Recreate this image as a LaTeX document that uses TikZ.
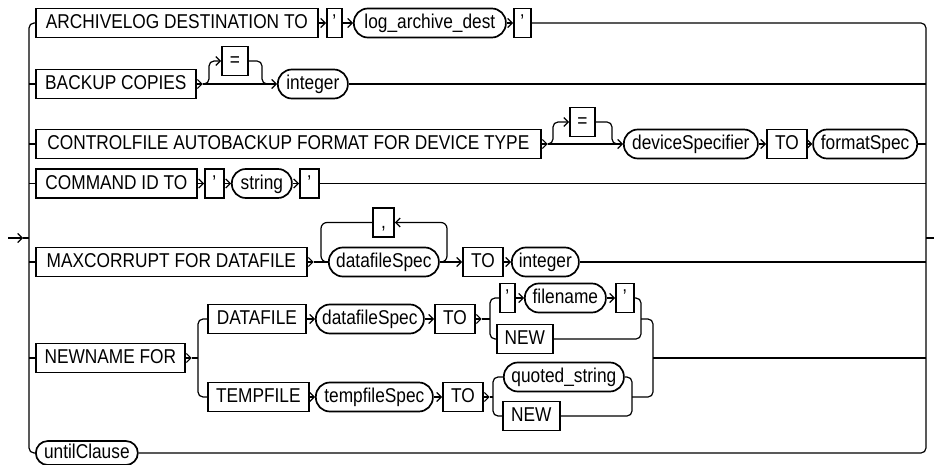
\documentclass[tikz,border=0pt]{standalone}
\usepackage{fontspec}
\setmainfont[FakeStretch=0.865]{Liberation Sans}
\usetikzlibrary{arrows.meta}
\newcommand{\fsz}{\fontsize{20pt}{22pt}\selectfont}
\begin{document}
\begin{tikzpicture}[x=1pt,y=-1pt,
  conn/.style={line width=1.2pt},
  arr/.style={-{Straight Barb[length=4.5pt,width=9pt]}},
  kw/.style={draw, line width=1.7pt, rectangle, inner sep=0pt, minimum height=29pt,
    anchor=west, font=\fsz, text height=14.5pt, text depth=3pt, minimum width=#1},
  ov/.style={kw=#1, rounded corners=14pt}]
\useasboundingbox (0,0) rectangle (934,465);

% row 1
\node[kw=282] (archive) at (35,23) {ARCHIVELOG DESTINATION TO};
\node[kw=15] (q1a) at (326,23) {’};
\node[ov=152] (logarch) at (353,23) {log\_archive\_dest};
\node[kw=17] (q1b) at (513,23) {’};
% row 2
\node[kw=160] (backup) at (35,84) {BACKUP COPIES};
\node[kw=26, anchor=center] (eq1) at (235,61) {=};
\node[ov=70] (int2) at (277,84) {integer};
% row 3
\node[kw=505] (ctrl) at (35,144) {CONTROLFILE AUTOBACKUP FORMAT FOR DEVICE TYPE};
\node[kw=25, anchor=center] (eq2) at (582.5,122) {=};
\node[ov=134] (devspec) at (623,144) {deviceSpecifier};
\node[kw=40] (to3) at (766,144) {TO};
\node[ov=104, anchor=east] (fmt) at (918,144) {formatSpec};
% row 4
\node[kw=161] (cmd) at (35,183.5) {COMMAND ID TO};
\node[kw=19] (q4a) at (204,183.5) {’};
\node[ov=60] (str) at (231,183.5) {string};
\node[kw=19] (q4b) at (299,183.5) {’};
% row 5
\node[kw=271] (maxc) at (35,262) {MAXCORRUPT FOR DATAFILE};
\node[ov=110] (dfs5) at (328,262) {datafileSpec};
\node[kw=21, anchor=center] (comma) at (383.5,222.5) {,};
\node[kw=40] (to5) at (462,262) {TO};
\node[ov=67] (int5) at (511,262) {integer};
% row 6
\node[kw=149] (newname) at (35,358) {NEWNAME FOR};
\node[kw=98] (datafile) at (207,319) {DATAFILE};
\node[ov=108] (dfs6) at (315,319) {datafileSpec};
\node[kw=40] (to6) at (434,319) {TO};
\node[kw=15] (q6a) at (499,298) {’};
\node[ov=81] (fname) at (524,298) {filename};
\node[kw=18] (q6b) at (615,298) {’};
\node[kw=56] (new1) at (496,339) {NEW};
\node[kw=101] (tempfile) at (207,397) {TEMPFILE};
\node[ov=117] (tfs) at (315,397) {tempfileSpec};
\node[kw=40] (to7) at (442,397) {TO};
\node[ov=120] (qstr) at (503,377) {quoted\_string};
\node[kw=57] (new2) at (502,416) {NEW};
% row 7
\node[ov=102, minimum height=24pt, rounded corners=12pt, text height=13.5pt, text depth=3pt] (until) at (35,453) {untilClause};

% coordinates
\coordinate (start) at (8,238);
\coordinate (tip) at (23,238);
\coordinate (lv) at (29,238);
\coordinate (rv) at (926,238);
\coordinate (end) at (934,238);

% entry / left rail
\draw[conn,arr] (start) -- (tip);
\draw[conn] (tip) -- (lv);
\draw[conn,rounded corners=5pt] (archive.west) -| (lv) |- (until.west);
\foreach \n in {backup,ctrl,cmd,maxc,newname}
  \draw[conn] (\n.west) -- (\n.west -| lv);

% right rail / exit
\draw[conn,rounded corners=5pt] (q1b.east) -| (rv) |- (until.east);
\draw[conn] (rv) -- (end);

% row 1
\draw[conn,arr] (archive.east) -- (q1a.west);
\draw[conn,arr] (q1a.east) -- (logarch.west);
\draw[conn,arr] (logarch.east) -- (q1b.west);

% row 2
\coordinate (u2) at (209,61);
\coordinate (d2) at (262,84);
\coordinate (e2) at (269,84);
\draw[conn,arr] (backup.east) -- ++(6,0) coordinate (b2);
\draw[conn,arr] (b2) -- (int2.west);
\draw[conn,arr,rounded corners=5pt] (b2) -| (u2) -- (eq1.west);
\draw[conn,rounded corners=5pt] (eq1.east) -| (d2) -- (e2);
\draw[conn] (int2.east) -- (int2.east -| rv);

% row 3
\coordinate (u3) at (553,122);
\coordinate (d3) at (612,144);
\coordinate (e3) at (618,144);
\draw[conn,arr] (ctrl.east) -- ++(6,0) coordinate (b3);
\draw[conn,arr] (b3) -- (devspec.west);
\draw[conn,arr,rounded corners=5pt] (b3) -| (u3) -- (eq2.west);
\draw[conn,rounded corners=5pt] (eq2.east) -| (d3) -- (e3);
\draw[conn,arr] (devspec.east) -- (to3.west);
\draw[conn,arr] (to3.east) -- (fmt.west);
\draw[conn] (fmt.east) -- (fmt.east -| rv);

% row 4
\draw[conn,arr] (cmd.east) -- (q4a.west);
\draw[conn,arr] (q4a.east) -- (str.west);
\draw[conn,arr] (str.east) -- (q4b.west);
\draw[conn] (q4b.east) -- (q4b.east -| rv);

% row 5
\coordinate (lr) at (447,222.5);
\coordinate (ll) at (321,262);
\draw[conn,arr] (maxc.east) -- ++(6,0) coordinate (b5);
\draw[conn] (b5) -- (dfs5.west);
\draw[conn,arr,rounded corners=6pt] (dfs5.east) -| (lr) -- (comma.east);
\draw[conn,rounded corners=6pt] (comma.west) -| (ll) -- (dfs5.west);
\draw[conn,arr] (dfs5.east) -- (to5.west);
\draw[conn,arr] (to5.east) -- (int5.west);
\draw[conn] (int5.east) -- (int5.east -| rv);

% row 6
\coordinate (br6) at (198,358);
\coordinate (br6a) at (490,319);
\coordinate (m6a) at (641,319);
\coordinate (m6) at (653,358);
\coordinate (br7) at (493,397);
\coordinate (m7) at (632,397);
\draw[conn,arr] (newname.east) -- ++(6,0) coordinate (b6);
\draw[conn] (b6) -- (br6);
\draw[conn,rounded corners=5pt] (datafile.west) -| (br6) |- (tempfile.west);
\draw[conn,arr] (datafile.east) -- (dfs6.west);
\draw[conn,arr] (dfs6.east) -- (to6.west);
\draw[conn,arr] (to6.east) -- ++(6,0) coordinate (b6a);
\draw[conn] (b6a) -- (br6a);
\draw[conn,rounded corners=5pt] (q6a.west) -| (br6a) |- (new1.west);
\draw[conn,arr] (q6a.east) -- (fname.west);
\draw[conn,arr] (fname.east) -- (q6b.west);
\draw[conn,rounded corners=5pt] (q6b.east) -| (m6a) |- (new1.east);
\draw[conn,rounded corners=5pt] (m6a) -| (m6) |- (m7);
\draw[conn] (m6) -- (m6 -| rv);
\draw[conn,arr] (tempfile.east) -- (tfs.west);
\draw[conn,arr] (tfs.east) -- (to7.west);
\draw[conn,arr] (to7.east) -- ++(6,0) coordinate (b7);
\draw[conn] (b7) -- (br7);
\draw[conn,rounded corners=5pt] (qstr.west) -| (br7) |- (new2.west);
\draw[conn,rounded corners=5pt] (qstr.east) -| (m7) |- (new2.east);
\end{tikzpicture}
\end{document}
